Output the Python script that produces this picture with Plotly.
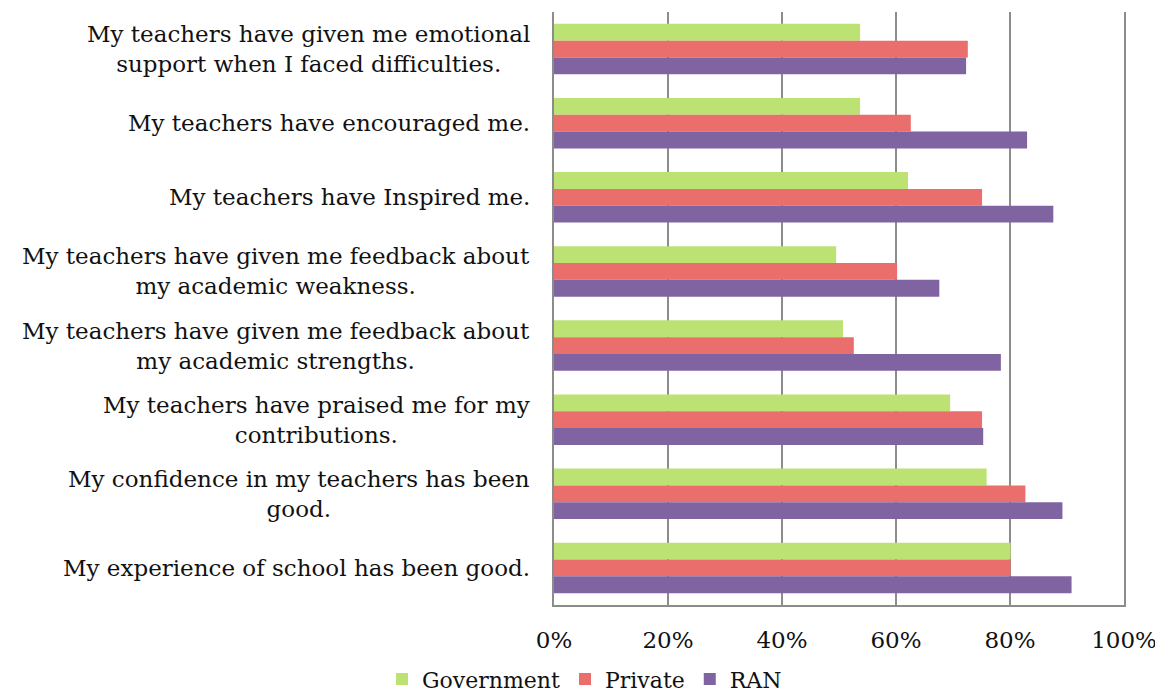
import plotly.graph_objects as go

# statements, listed top to bottom as in the chart
statements = [
    "My teachers have given me emotional<br>support when I faced difficulties.",
    "My teachers have encouraged me.",
    "My teachers have Inspired me.",
    "My teachers have given me feedback about<br>my academic weakness.",
    "My teachers have given me feedback about<br>my academic strengths.",
    "My teachers have praised me for my<br>contributions.",
    "My confidence in my teachers has been<br>good.",
    "My experience of school has been good.",
]

government = [0.537, 0.537, 0.621, 0.495, 0.507, 0.695, 0.759, 0.801]
private = [0.726, 0.626, 0.751, 0.602, 0.526, 0.751, 0.827, 0.801]
ran = [0.723, 0.830, 0.876, 0.676, 0.784, 0.753, 0.892, 0.908]

x_ticks = [0, 0.2, 0.4, 0.6, 0.8, 1.0]

FONT = "DejaVu Serif"

fig = go.Figure()
fig.add_trace(go.Bar(y=statements, x=government, name="Government", orientation="h",
                     marker=dict(color="#bde274", line=dict(width=0))))
fig.add_trace(go.Bar(y=statements, x=private, name="Private", orientation="h",
                     marker=dict(color="#ea6f6c", line=dict(width=0))))
fig.add_trace(go.Bar(y=statements, x=ran, name="RAN", orientation="h",
                     marker=dict(color="#8064a2", line=dict(width=0))))

# category labels as annotations so the two-line labels are centred
for s in statements:
    fig.add_annotation(x=0, xref="paper", y=s, yref="y", text=s, showarrow=False,
                       xanchor="right", xshift=-22, align="center",
                       font=dict(family=FONT, size=23, color="#111"))

# the page body adds an 8px margin, so the figure is sized to fit inside it
fig.update_layout(
    width=1153, height=684,
    margin=dict(l=546, r=37, t=4, b=87, autoexpand=False),
    barmode="group", bargap=0.32, bargroupgap=0,
    plot_bgcolor="white", paper_bgcolor="white",
    font=dict(family=FONT, size=23, color="#111"),
    legend=dict(orientation="h", xref="container", yref="paper",
                x=0.5, xanchor="center", y=-0.125, yanchor="middle",
                font=dict(family=FONT, size=22), itemwidth=30),
)
fig.update_xaxes(range=[0, 1], tickvals=x_ticks, tickformat=".0%",
                 showgrid=True, gridcolor="#8c8c8c", gridwidth=1.5,
                 showline=True, linecolor="#8c8c8c", linewidth=1.5,
                 ticks="", ticklabelstandoff=14, ticklabeloverflow="allow",
                 zeroline=False, automargin=False)
fig.update_yaxes(autorange="reversed", showticklabels=False, showgrid=False,
                 showline=True, mirror=True, linecolor="#8c8c8c", linewidth=1.5,
                 ticks="", automargin=False)

fig.write_html("out.html")
